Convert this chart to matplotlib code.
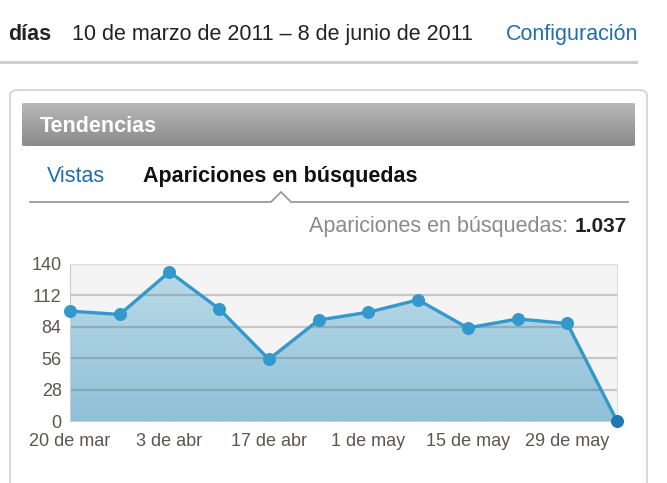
import numpy as np
import matplotlib
matplotlib.use("Agg")
import matplotlib.pyplot as plt
from matplotlib.patches import FancyBboxPatch
from matplotlib.lines import Line2D
from matplotlib.colors import LinearSegmentedColormap

plt.rcParams['font.family'] = ['Liberation Sans', 'DejaVu Sans']

# Weekly search appearances
weeks = ["20 de mar", "27 de mar", "3 de abr", "10 de abr", "17 de abr", "24 de abr",
         "1 de may", "8 de may", "15 de may", "22 de may", "29 de may", "5 de jun"]
appearances = [98, 95, 133, 100, 55, 90, 97, 108, 83, 91, 87, 0]
y_ticks = [0, 28, 56, 84, 112, 140]
x_tick_labels = ["20 de mar", "3 de abr", "17 de abr", "1 de may", "15 de may", "29 de may"]
total_label = "1.037"

W, H = 667, 483
fig = plt.figure(figsize=(W / 100, H / 100), dpi=100)
fig.patch.set_facecolor("white")


def fx(x):
    return x / W


def fy(y):
    return 1 - y / H


# Page header
fig.text(fx(8), fy(40), "días", fontsize=15.5, fontweight="bold", color="#222222", va="baseline")
fig.text(fx(72), fy(40), "10 de marzo de 2011 – 8 de junio de 2011", fontsize=15.5,
         color="#222222", va="baseline")
fig.text(fx(506), fy(40), "Configuración", fontsize=15.5, color="#1f6fae", va="baseline")
fig.add_artist(Line2D([fx(0), fx(636)], [fy(62), fy(62)], color="#cfcfcf", lw=2.2))

# Panel frame
frame = FancyBboxPatch((fx(10), fy(520)), fx(637), (520 - 90) / H,
                       boxstyle="round,pad=0,rounding_size=0.012",
                       transform=fig.transFigure, facecolor="white",
                       edgecolor="#d4d4d4", lw=1.3, zorder=-5)
fig.add_artist(frame)

# Header bar with gray gradient
grad = np.linspace(0, 1, 100).reshape(-1, 1)
hax = fig.add_axes([fx(22), fy(146), fx(635 - 22), (146 - 103) / H])
hax.set_axis_off()
gray_cmap = LinearSegmentedColormap.from_list("hdr", ["#b8b8b8", "#8a8a8a"])
im = hax.imshow(grad, aspect="auto", cmap=gray_cmap, extent=[0, 1, 0, 1], origin="upper")
hclip = FancyBboxPatch((0, 0), 1, 1, boxstyle="round,pad=0,rounding_size=0.012",
                       transform=hax.transAxes, facecolor="none", edgecolor="none")
hax.add_patch(hclip)
im.set_clip_path(hclip)
hax.set_xlim(0, 1)
hax.set_ylim(0, 1)
fig.text(fx(40), fy(132), "Tendencias", fontsize=15.5, fontweight="bold", color="white",
         va="baseline")

# Tabs
fig.text(fx(47), fy(182), "Vistas", fontsize=15.5, color="#1f6fae", va="baseline")
fig.text(fx(143), fy(182), "Apariciones en búsquedas", fontsize=15.5, fontweight="bold",
         color="#111111", va="baseline")
fig.add_artist(Line2D([fx(30), fx(271), fx(281), fx(291), fx(628)],
                      [fy(202), fy(202), fy(192), fy(202), fy(202)],
                      color="#9a9a9a", lw=1.3))

# Total summary
fig.text(fx(627), fy(232), total_label, fontsize=15, fontweight="bold", color="#222222",
         ha="right", va="baseline")
fig.text(fx(568), fy(232), "Apariciones en búsquedas:", fontsize=15.5, color="#8a8a8a",
         ha="right", va="baseline")

# Chart
ax = fig.add_axes([fx(70), fy(421), fx(617 - 70), (421 - 264) / H])
x = np.arange(len(appearances))
ax.set_facecolor("#f4f4f4")
ax.set_xlim(0, len(appearances) - 1)
ax.set_ylim(0, 140)

poly = ax.fill_between(x, appearances, 0, color="none")
blue_cmap = LinearSegmentedColormap.from_list("fill", ["#bcdbe8", "#8fc0d8"])
gim = ax.imshow(grad, aspect="auto", cmap=blue_cmap,
                extent=[0, len(appearances) - 1, 0, 140], origin="upper", zorder=1)
gim.set_clip_path(poly.get_paths()[0], transform=ax.transData)

for t in y_ticks[1:]:
    ax.axhline(t, color="#555555", alpha=0.28, lw=1.6, zorder=2)

ax.plot(x, appearances, color="#3399cc", lw=2.4, zorder=3, clip_on=False)
ax.scatter(x[:-1], appearances[:-1], s=70, color="#3399cc", zorder=4, clip_on=False)
ax.scatter(x[-1:], appearances[-1:], s=70, color="#1f78b4", zorder=4, clip_on=False)

for side in ["top", "right"]:
    ax.spines[side].set_color("#dddddd")
ax.spines["left"].set_color("#cccccc")
ax.spines["bottom"].set_color("#cccccc")

ax.set_yticks(y_ticks)
ax.set_yticklabels([str(v) for v in y_ticks])
ax.set_xticks(x[::2])
ax.set_xticklabels(x_tick_labels)
ax.tick_params(length=0, labelsize=13, labelcolor="#5c5650")
ax.tick_params(axis="x", pad=9)
ax.tick_params(axis="y", pad=6)

fig.savefig("out.png", dpi=100)
